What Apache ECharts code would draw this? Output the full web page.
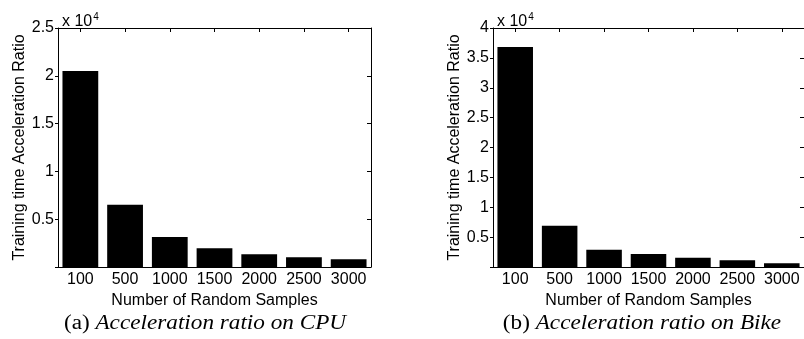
<!DOCTYPE html>
<html>
<head>
<meta charset="utf-8">
<script src="https://cdn.jsdelivr.net/npm/echarts@6/dist/echarts.min.js"></script>
<style>
html,body{margin:0;padding:0;background:#fff;}
#c{width:804px;height:339px;}
</style>
</head>
<body>
<div id="c"></div>
<script>
const categories = ['100', '500', '1000', '1500', '2000', '2500', '3000'];
const cpuValues = [20500, 6500, 3150, 1960, 1330, 1015, 805];
const bikeValues = [36800, 6900, 2900, 2170, 1560, 1110, 610];
const cpuMax = 25000;
const bikeMax = 40000;
const yInterval = 5000;
const xName = 'Number of Random Samples';
const yName = 'Training time Acceleration Ratio';
const captionA = ['(a) ', 'Acceleration ratio on CPU'];
const captionB = ['(b) ', 'Acceleration ratio on Bike'];

const sans = 'Liberation Sans';
const chart = echarts.init(document.getElementById('c'), null, {renderer: 'canvas'});

const grids = [
  {left: 58, top: 28, width: 313, height: 239},
  {left: 493, top: 28, width: 313, height: 239}
];

function xAxes(gi) {
  return [
    {
      type: 'category', gridIndex: gi, data: categories, position: 'bottom',
      axisLine: {onZero: false, lineStyle: {color: '#000', width: 1}},
      axisTick: {show: false},
      axisLabel: {color: '#000', fontFamily: sans, fontSize: 16, margin: 5, interval: 0},
      name: xName, nameLocation: 'middle', nameGap: 20,
      nameTextStyle: {color: '#000', fontFamily: sans, fontSize: 16}
    },
    {
      type: 'category', gridIndex: gi, data: categories, position: 'top',
      axisLine: {show: true, onZero: false, lineStyle: {color: '#000', width: 1}},
      axisTick: {show: true, inside: true, length: 4, alignWithLabel: true, interval: 0, lineStyle: {color: '#000'}},
      axisLabel: {show: false}
    }
  ];
}
function yAxes(gi, max) {
  return [
    {
      type: 'value', gridIndex: gi, min: 0, max: max, interval: yInterval, position: 'left',
      axisLine: {show: true, onZero: false, lineStyle: {color: '#000', width: 1}},
      axisTick: {show: true, inside: false, length: 3, lineStyle: {color: '#000'}},
      splitLine: {show: false},
      axisLabel: {color: '#000', fontFamily: sans, fontSize: 16, margin: 4,
        formatter: v => v === 0 ? '' : String(v / 10000)},
      name: yName, nameLocation: 'middle', nameGap: 29,
      nameTextStyle: {color: '#000', fontFamily: sans, fontSize: 16}
    },
    {
      type: 'value', gridIndex: gi, min: 0, max: max, interval: yInterval, position: 'right',
      axisLine: {show: true, onZero: false, lineStyle: {color: '#000', width: 1}},
      axisTick: {show: true, inside: true, length: 4, lineStyle: {color: '#000'}},
      splitLine: {show: false},
      axisLabel: {show: false}
    }
  ];
}

const expRich = {
  a: {fontFamily: sans, fontSize: 16, fontWeight: 'normal', color: '#000'},
  b: {fontFamily: sans, fontSize: 10, fontWeight: 'normal', color: '#000', verticalAlign: 'top', padding: [0, 0, 10, 1]}
};
const capRich = {
  r: {fontFamily: 'Liberation Serif', fontSize: 20, fontWeight: 'normal', fill: '#000', color: '#000'},
  i: {fontFamily: 'Liberation Serif', fontSize: 20, fontWeight: 'normal', fontStyle: 'italic', fill: '#000', color: '#000'}
};

function caption(parts, cx) {
  return {
    type: 'text', x: cx, y: 324, scaleX: 1.16, silent: true,
    style: {
      text: '{r|' + parts[0] + '}{i|' + parts[1] + '}',
      rich: capRich, align: 'center', verticalAlign: 'middle', fill: '#000'
    }
  };
}

const option = {
  backgroundColor: '#fff',
  animation: false,
  grid: grids,
  xAxis: [...xAxes(0), ...xAxes(1)],
  yAxis: [...yAxes(0, cpuMax), ...yAxes(1, bikeMax)],
  series: [
    {type: 'bar', xAxisIndex: 0, yAxisIndex: 0, data: cpuValues, barWidth: '80%',
     itemStyle: {color: '#000'}},
    {type: 'bar', xAxisIndex: 2, yAxisIndex: 2, data: bikeValues, barWidth: '80%',
     itemStyle: {color: '#000'}}
  ],
  title: [
    {text: '{a|x 10}{b|4}', left: 57, top: 7, textStyle: {fontWeight: 'normal', rich: expRich}},
    {text: '{a|x 10}{b|4}', left: 492, top: 7, textStyle: {fontWeight: 'normal', rich: expRich}}
  ],
  graphic: [caption(captionA, 205), caption(captionB, 642)]
};
chart.setOption(option);
</script>
</body>
</html>
